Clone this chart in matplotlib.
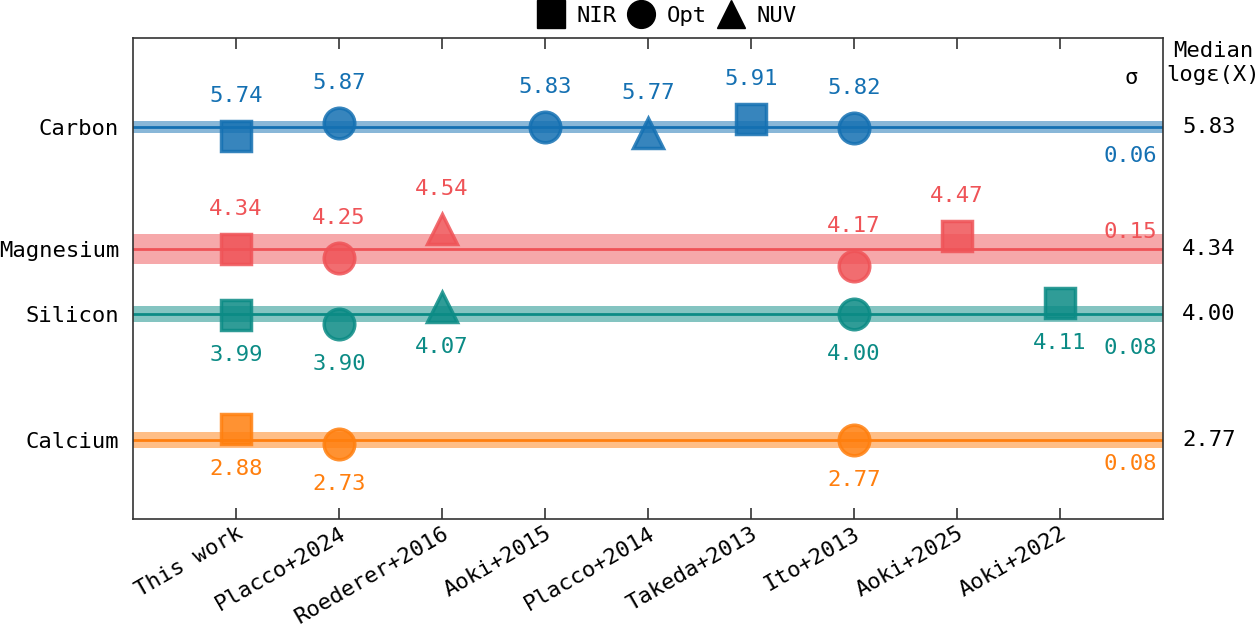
import numpy as np
import matplotlib.pyplot as plt
from matplotlib.lines import Line2D
from matplotlib.transforms import blended_transform_factory

plt.rcParams['font.family'] = ['DejaVu Sans Mono', 'DejaVu Sans']

refs = ['This work', 'Placco+2024', 'Roederer+2016', 'Aoki+2015', 'Placco+2014',
        'Takeda+2013', 'Ito+2013', 'Aoki+2025', 'Aoki+2022']

elements = ['Carbon', 'Magnesium', 'Silicon', 'Calcium']
medians = [5.83, 4.34, 4.00, 2.77]
sigmas = [0.06, 0.15, 0.08, 0.08]
colors = ['#1470b2', '#ef5357', '#0b8b85', '#ff7f0e']

# (reference index, value, band)
carbon_ref = [0, 1, 3, 4, 5, 6]
carbon_val = [5.74, 5.87, 5.83, 5.77, 5.91, 5.82]
carbon_band = ['NIR', 'Opt', 'Opt', 'NUV', 'NIR', 'Opt']

mg_ref = [0, 1, 2, 6, 7]
mg_val = [4.34, 4.25, 4.54, 4.17, 4.47]
mg_band = ['NIR', 'Opt', 'NUV', 'Opt', 'NIR']

si_ref = [0, 1, 2, 6, 8]
si_val = [3.99, 3.90, 4.07, 4.00, 4.11]
si_band = ['NIR', 'Opt', 'NUV', 'Opt', 'NIR']

ca_ref = [0, 1, 6]
ca_val = [2.88, 2.73, 2.77]
ca_band = ['NIR', 'Opt', 'Opt']

data = [(carbon_ref, carbon_val, carbon_band),
        (mg_ref, mg_val, mg_band),
        (si_ref, si_val, si_band),
        (ca_ref, ca_val, ca_band)]

# layout: vertical row positions (dex), label side, sigma label offsets
row_y = [0.0, -1.22, -1.87, -3.13]
label_side = [1, 1, -1, -1]
sig_off = [-0.29, 0.17, -0.34, -0.24]

band_marker = {'NIR': 's', 'Opt': 'o', 'NUV': '^'}

fig = plt.figure(figsize=(12.58, 6.28), dpi=100)
ax = fig.add_axes([133/1258, 1 - 519/628, 1030/1258, 481/628])
blend = blended_transform_factory(ax.transAxes, ax.transData)

for i, (xr, vals, bands) in enumerate(data):
    c = colors[i]
    y0 = row_y[i]
    ax.axhspan(y0 - sigmas[i], y0 + sigmas[i], color=c, alpha=0.5, lw=0, zorder=1)
    ax.axhline(y0, color=c, lw=2, zorder=2)
    for x, v, b in zip(xr, vals, bands):
        y = y0 + (v - medians[i])
        ax.plot(x, y, marker=band_marker[b], ms=22, mew=2.5, color=c,
                alpha=0.85, ls='none', zorder=3)
        ax.text(x, y + 0.40 * label_side[i], f'{v:.2f}', color=c, fontsize=16,
                ha='center', va='center', zorder=4)
    ax.text(0.994, y0 + sig_off[i], f'{sigmas[i]:.2f}', color=c, fontsize=16,
            ha='right', va='center', transform=blend)
    ax.text(1.0184, y0, f'{medians[i]:.2f}', color='black', fontsize=16,
            ha='left', va='center', transform=blend, clip_on=False)

ax.text(0.969, 0.917, 'σ', fontsize=16, ha='center', va='center', transform=ax.transAxes)
ax.text(1.0485, 0.948, 'Median\nlogε(X)', fontsize=16, ha='center', va='center',
        transform=ax.transAxes, linespacing=1.25)

ax.set_xlim(-1, 9)
ax.set_ylim(-3.92, 0.89)
ax.set_xticks(np.arange(len(refs)))
ax.set_xticklabels(refs, rotation=30, ha='right', rotation_mode='anchor', fontsize=16)
ax.set_yticks(row_y)
ax.set_yticklabels(elements, fontsize=16)
ax.tick_params(axis='x', direction='in', top=True, length=8, width=1.2, color='#333333', pad=3)
ax.tick_params(axis='y', length=0, pad=10)
for s in ax.spines.values():
    s.set_color('#333333')
    s.set_linewidth(1.2)

handles = [Line2D([], [], marker=m, color='black', ls='none', ms=20) for m in ['s', 'o', '^']]
fig.legend(handles, ['NIR', 'Opt', 'NUV'], loc='center', bbox_to_anchor=(667/1258, 0.975),
           ncol=3, frameon=False, fontsize=16, handletextpad=0.55, columnspacing=0.5,
           handlelength=1.2, borderpad=0)

fig.savefig('out.png', dpi=100)
